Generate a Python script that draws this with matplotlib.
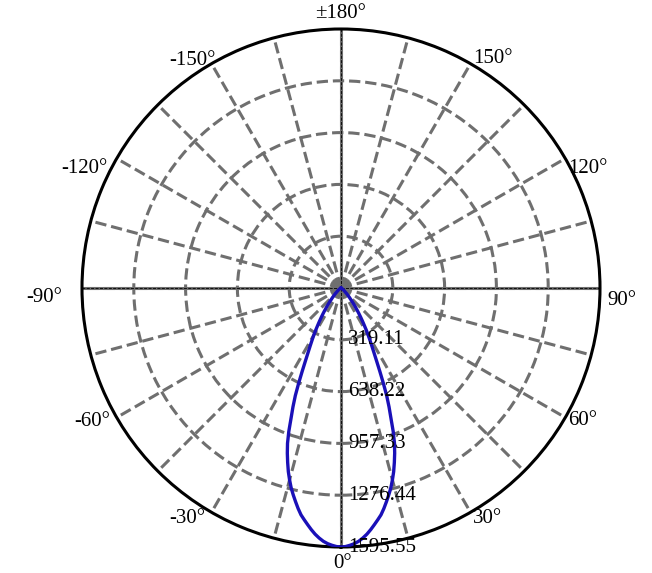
import numpy as np
import matplotlib
matplotlib.use('Agg')
import matplotlib.pyplot as plt

# luminous intensity, one side (0..180 deg), mirrored for negative angles
angles_deg = [0, 1, 2, 3, 4, 5, 6, 7, 8, 9, 10, 11, 12, 13, 14, 15, 16, 17, 18, 19, 20,
              21, 22, 23, 24, 25, 26, 27, 28, 29, 30, 31, 32, 33, 34, 35, 36, 37, 38, 39, 40,
              42, 45, 50, 55, 60, 65, 70, 75, 90, 120, 150, 180]
intensity = [1595.55, 1593, 1586, 1577, 1564, 1546, 1525, 1500, 1473, 1446, 1419,
             1384, 1346, 1308, 1269, 1224, 1177, 1124, 1070, 1012, 940,
             858, 790, 720, 640, 565, 500, 448, 405, 368, 335, 302, 270, 242, 216, 192,
             170, 150, 131, 114, 99, 76, 50, 25, 12, 6, 3, 1, 0, 0, 0, 0, 0]

ring_values = [319.11, 638.22, 957.33, 1276.44, 1595.55]
angle_ticks = [0, 30, 60, 90, 120, 150, 180, -150, -120, -90, -60, -30]
angle_labels = ['0°', '30°', '60°', '90°', '120°', '150°', '±180°',
                '-150°', '-120°', '-90°', '-60°', '-30°']

# label placement (pixel offsets from the rim point, alignment)
label_style = {
    0: (2, -17, 'center'), 30: (2, -6, 'left'), 60: (3, -3, 'left'),
    90: (7, -12, 'left'), 120: (3, -10, 'left'), 150: (3, 5, 'left'),
    180: (0, 16, 'center'), -150: (4, 3, 'right'), -120: (-9, -10, 'right'),
    -90: (-20, -10, 'right'), -60: (-7, -4, 'right'), -30: (-6, -6, 'right'),
}

font = ['Liberation Serif', 'DejaVu Serif']
gray = '#6f6f6f'
rmax = ring_values[-1]

fig = plt.figure(figsize=(6.52, 5.73), dpi=100)
ax = fig.add_axes([82 / 652, 26 / 573, 518 / 652, 518 / 573], projection='polar')
ax.set_theta_zero_location('S')
ax.set_theta_direction(1)
ax.set_ylim(0, rmax)

ax.set_xticks(np.radians(np.arange(0, 360, 15)))
ax.set_xticklabels([])
ax.set_yticks(ring_values[:-1])
ax.set_yticklabels([])
ax.grid(True, color=gray, linestyle='--', linewidth=2.2)
ax.spines['polar'].set_color('black')
ax.spines['polar'].set_linewidth(2.2)

# main axes drawn solid with a thin dark dashed core
for t in [0, 90, 180, 270]:
    ax.plot([np.radians(t)] * 2, [0, rmax], color=gray, lw=2.2, zorder=2)
    ax.plot([np.radians(t)] * 2, [0, rmax], color='black', lw=0.6, ls='--', zorder=2)

full_deg = [-a for a in angles_deg[::-1]] + angles_deg[1:]
full_int = intensity[::-1] + intensity[1:]
ax.plot(np.radians(full_deg), full_int, color='#1a10b8', lw=2.4, zorder=5)

for r in ring_values:
    ax.annotate(f'{r:.2f}', xy=(0, r), xytext=(7, 0), textcoords='offset pixels',
                ha='left', va='center', fontsize=15, family=font,
                annotation_clip=False, zorder=6)

for a, lab in zip(angle_ticks, angle_labels):
    dx, dy, ha = label_style[a]
    ax.annotate(lab, xy=(np.radians(a), rmax), xytext=(dx, dy), textcoords='offset pixels',
                ha=ha, va='center', fontsize=15, family=font, annotation_clip=False)

fig.savefig('out.png', dpi=100)
